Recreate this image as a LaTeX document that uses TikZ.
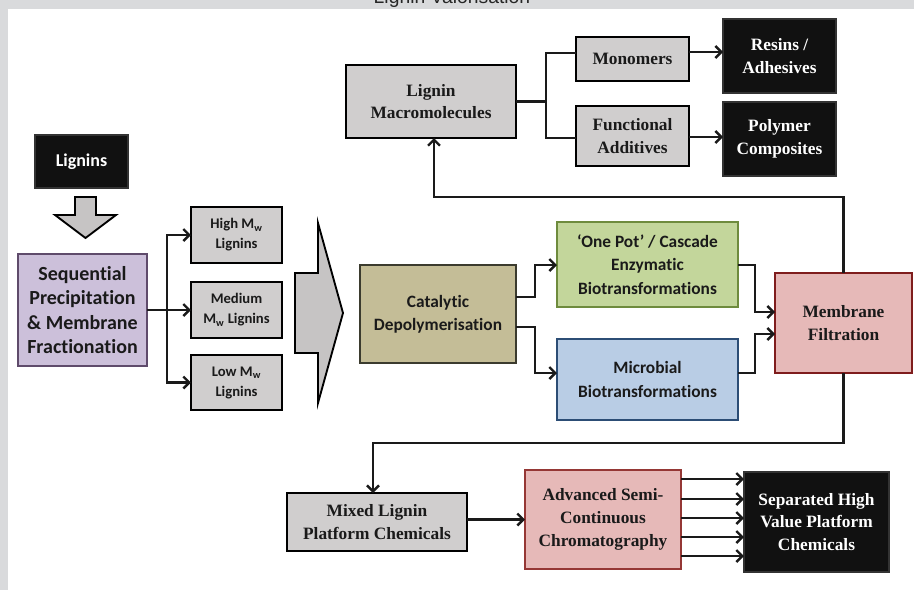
\documentclass[tikz,border=0pt]{standalone}
\usepackage{fontspec}
\setmainfont{Liberation Serif}
\newfontfamily\calib[Ligatures=NoCommon]{Carlito}
\newfontfamily\arialf{Liberation Sans}
\usetikzlibrary{arrows.meta,calc}

\definecolor{frame}{HTML}{D9DADC}
\definecolor{boxgray}{HTML}{D0CECE}
\definecolor{purpfill}{HTML}{CCC0DA}
\definecolor{purpline}{HTML}{5F4B6B}
\definecolor{tanfill}{HTML}{C4BD97}
\definecolor{tanline}{HTML}{3B3B2E}
\definecolor{grfill}{HTML}{C3D69B}
\definecolor{grline}{HTML}{6E8B3D}
\definecolor{blfill}{HTML}{B9CDE5}
\definecolor{blline}{HTML}{2C4D75}
\definecolor{pkfill}{HTML}{E6B9B8}
\definecolor{pkline}{HTML}{7F1D1D}
\definecolor{advline}{HTML}{953735}
\definecolor{ink}{HTML}{1A1A1A}
\definecolor{blackbox}{HTML}{111111}

\begin{document}
\begin{tikzpicture}[x=0.75pt,y=-0.75pt,
  wh/.style 2 args={minimum width=#1*0.75pt, minimum height=#2*0.75pt},
  box/.style={draw=black, line width=1.5pt, inner sep=0pt, outer sep=0pt,
              align=center, text=ink},
  sansbig/.style={font=\calib\bfseries\fontsize{15}{18.2}\selectfont},
  sanslabel/.style={font=\calib\bfseries\fontsize{13.5}{16}\selectfont},
  sansmid/.style={font=\calib\bfseries\fontsize{13}{17.5}\selectfont},
  sanssmall/.style={font=\calib\bfseries\fontsize{11}{15}\selectfont},
  serif/.style={font=\bfseries\fontsize{13}{17}\selectfont},
  gbox/.style={box, fill=boxgray},
  blk/.style={box, fill=blackbox, draw=black!80, text=white},
  pbox/.style={box, fill=purpfill, draw=purpline},
  tbox/.style={box, fill=tanfill, draw=tanline},
  grbox/.style={box, fill=grfill, draw=grline},
  blbox/.style={box, fill=blfill, draw=blline},
  rbox/.style={box, fill=pkfill, draw=pkline},
  abox/.style={box, fill=pkfill, draw=advline},
  conn/.style={line width=1.8pt, draw=ink},
  arr/.style={conn, -{Straight Barb[length=4.5pt,width=9pt]}},
  blockarrow/.style={fill=boxgray!95!black, draw=black, line width=1.4pt, line join=miter}
]
% page frame
\fill[frame] (0,0) rectangle (914,590);
\fill[white] (8,9) rectangle (914,590);
\useasboundingbox (0,0) rectangle (914,590);

\node[font=\arialf\fontsize{14.5}{16}\selectfont, anchor=base, text=black!85] (title) at (452,3) {Lignin Valorisation};

% left column
\node[blk, sanslabel, wh={93}{53}] (lig) at (81.5,161.5) {Lignins};
\node[pbox, sansbig, wh={129}{112}] (frac) at (82.5,310) {Sequential\\Precipitation\\\& Membrane\\Fractionation};
\node[gbox, sanssmall, wh={91}{56}] (high) at (236.5,235) {High M\textsubscript{w}\\Lignins};
\node[gbox, sanssmall, wh={91}{56}] (med) at (236.5,310) {Medium\\M\textsubscript{w} Lignins};
\node[gbox, sanssmall, wh={91}{55}] (low) at (236.5,382.5) {Low M\textsubscript{w}\\Lignins};

% upper branch
\node[gbox, serif, wh={170}{73}] (macro) at (431,101.5) {Lignin\\Macromolecules};
\node[gbox, serif, wh={113}{44}] (mono) at (632.5,59) {Monomers};
\node[gbox, serif, wh={113}{60}] (func) at (632.5,136) {Functional\\Additives};
\node[blk, serif, wh={113}{74}] (res) at (779.5,56) {Resins /\\Adhesives};
\node[blk, serif, wh={113}{74}] (poly) at (779.5,139) {Polymer\\Composites};

% middle branch
\node[tbox, sansmid, wh={156}{98}] (cat) at (438,314) {Catalytic\\Depolymerisation};
\node[grbox, sansmid, wh={181}{85}] (enz) at (647.5,264.5) {‘One Pot’ / Cascade\\Enzymatic\\Biotransformations};
\node[blbox, sansmid, wh={181}{81}] (mic) at (647.5,379.5) {Microbial\\Biotransformations};
\node[rbox, serif, wh={137}{100}] (memb) at (843.5,323) {Membrane\\Filtration};

% lower branch
\node[gbox, serif, wh={180}{58}] (mix) at (377,522) {Mixed Lignin\\Platform Chemicals};
\node[abox, serif, wh={156}{99}] (adv) at (603,519.5) {Advanced Semi-\\Continuous\\Chromatography};
\node[blk, serif, wh={145}{100}] (sep) at (816.5,522) {Separated High\\Value Platform\\Chemicals};

% block arrows
\draw[blockarrow] (75,197) -- (96,197) -- (96,215) -- (116,215) -- (85.5,238)
  -- (55,215) -- (75,215) -- cycle;
\draw[blockarrow] (295,273) -- (318,273) -- (318,223) -- (343,313) -- (318,403)
  -- (318,353) -- (295,353) -- cycle;

% fractionation outputs
\coordinate (s1) at (167,310);
\draw[arr] (frac.east) -- (s1) |- (high.west);
\draw[arr] (s1) |- (low.west);
\draw[arr] (s1) -- (med.west);

% macromolecule uses
\coordinate (s2) at (546,101.5);
\coordinate (m1) at (546,53);
\coordinate (m2) at (546,138);
\draw[conn] (macro.east) -- (s2);
\draw[conn] (mono.west |- m1) -- (m1) -- (m2) -- (func.west |- m2);
\coordinate (r1) at (0,52);
\coordinate (r2) at (0,137);
\draw[arr] (mono.east |- r1) -- (res.west |- r1);
\draw[arr] (func.east |- r2) -- (poly.west |- r2);

% depolymerisation routes
\coordinate (c1) at (535,297);
\coordinate (c1b) at (535,265);
\coordinate (c2) at (535,327);
\coordinate (c2b) at (535,373);
\draw[arr] (cat.east |- c1) -- (c1) -- (c1b) -- (enz.west |- c1b);
\draw[arr] (cat.east |- c2) -- (c2) -- (c2b) -- (mic.west |- c2b);

\coordinate (e1) at (755,265);
\coordinate (e2) at (755,312);
\coordinate (e3) at (755,373);
\coordinate (e4) at (755,334);
\draw[arr] (enz.east |- e1) -- (e1) -- (e2) -- (memb.west |- e2);
\draw[arr] (mic.east |- e3) -- (e3) -- (e4) -- (memb.west |- e4);

% filtration loops
\coordinate (l1) at (843.5,197);
\coordinate (l2) at (434,197);
\draw[arr] (memb.north) -- (l1) -- (l2) -- (macro.south -| l2);
\coordinate (b1) at (843.5,443);
\coordinate (b2) at (373,443);
\draw[arr] (memb.south) -- (b1) -- (b2) -- (mix.north -| b2);

% chromatography
\draw[arr] (mix.east |- adv.west) -- (adv.west);
\foreach \yy [count=\i] in {479,499,518,537,556} {
  \coordinate (f\i) at (0,\yy);
  \draw[arr] (adv.east |- f\i) -- (sep.west |- f\i);
}
\end{tikzpicture}
\end{document}
